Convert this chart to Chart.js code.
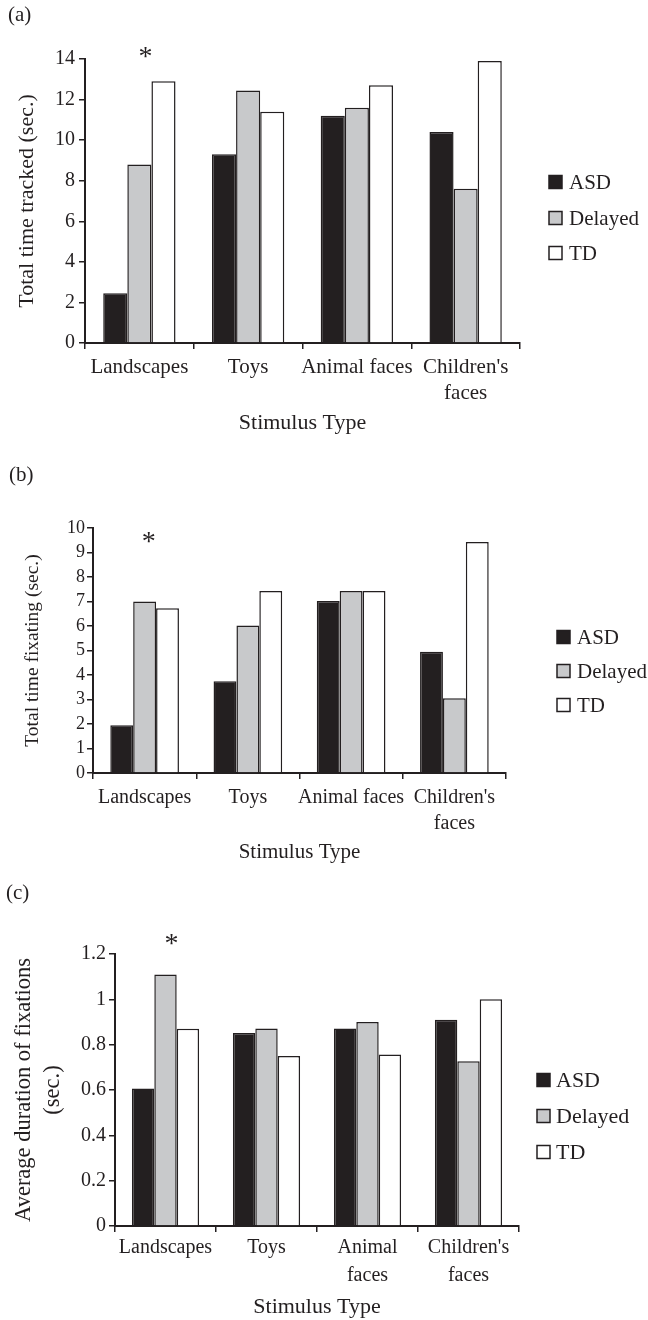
<!DOCTYPE html>
<html>
<head>
<meta charset="utf-8">
<script src="https://cdn.jsdelivr.net/npm/chart.js@4.4.1/dist/chart.umd.min.js"></script>
<style>
  body { margin: 0; background: #fff; }
  #page { position: relative; width: 648px; height: 1320px; font-family: "Liberation Serif", serif; color: #231f20; }
  .panel { position: absolute; left: 0; width: 648px; height: 440px; }
  .tag { position: absolute; font-size: 21px; line-height: 1; }
</style>
</head>
<body>
<div id="page">
  <div class="panel" style="top:0px"><canvas id="chartA"></canvas></div>
  <div class="panel" style="top:440px"><canvas id="chartB"></canvas></div>
  <div class="panel" style="top:880px"><canvas id="chartC"></canvas></div>
  <div class="tag" style="left:8px; top:4px">(a)</div>
  <div class="tag" style="left:9px; top:464px">(b)</div>
  <div class="tag" style="left:6px; top:882px">(c)</div>
</div>
<script>
const groups = ['ASD', 'Delayed', 'TD'];
const labelsAB = ['Landscapes', 'Toys', 'Animal faces', ["Children's", 'faces']];
const labelsC = ['Landscapes', 'Toys', ['Animal', 'faces'], ["Children's", 'faces']];

// (a) total time tracked
const trackedASD = [2.45, 9.3, 11.2, 10.4];
const trackedDelayed = [8.8, 12.45, 11.6, 7.6];
const trackedTD = [12.9, 11.4, 12.7, 13.9];

// (b) total time fixating
const fixatingASD = [1.95, 3.75, 7.02, 4.95];
const fixatingDelayed = [7.0, 6.02, 7.43, 3.05];
const fixatingTD = [6.72, 7.43, 7.43, 9.43];

// (c) average duration of fixations
const durationASD = [0.607, 0.852, 0.871, 0.91];
const durationDelayed = [1.11, 0.871, 0.9, 0.727];
const durationTD = [0.87, 0.75, 0.757, 1.0];

const ink = '#231f20';
const serif = '"Liberation Serif", "Times New Roman", serif';
const fills = [ink, '#c8c9cb', '#ffffff'];

// legend boxes on the right, drawn from the datasets
const groupLegend = {
    id: 'groupLegend',
    afterDraw(chart, args, opts) {
        const ctx = chart.ctx;
        ctx.save();
        chart.data.datasets.forEach((ds, i) => {
            const y = opts.ys[i];
            ctx.fillStyle = ds.backgroundColor;
            ctx.fillRect(opts.x, y - opts.size / 2, opts.size, opts.size);
            ctx.lineWidth = 1.5;
            ctx.strokeStyle = ink;
            ctx.strokeRect(opts.x, y - opts.size / 2, opts.size, opts.size);
            ctx.fillStyle = ink;
            ctx.font = opts.fontSize + 'px ' + serif;
            ctx.textBaseline = 'middle';
            ctx.textAlign = 'left';
            ctx.fillText(ds.label, opts.textX, y + 1);
        });
        ctx.restore();
    }
};

// significance star over the Delayed bar of the first category
const starMark = {
    id: 'starMark',
    afterDatasetsDraw(chart, args, opts) {
        const bar = chart.getDatasetMeta(1).data[0];
        const y = chart.scales.y.getPixelForValue(opts.value);
        const ctx = chart.ctx;
        ctx.save();
        ctx.fillStyle = ink;
        ctx.font = '28px ' + serif;
        ctx.textAlign = 'center';
        ctx.textBaseline = 'middle';
        ctx.fillText('*', bar.x + opts.dx, y + 5);
        ctx.restore();
    }
};

function makeChart(id, p) {
    return new Chart(document.getElementById(id), {
        type: 'bar',
        data: {
            labels: p.labels,
            datasets: p.series.map((values, i) => ({
                label: groups[i],
                data: values,
                backgroundColor: fills[i],
                borderColor: ink,
                borderWidth: 1.5,
                categoryPercentage: 0.665,
                barPercentage: 1
            }))
        },
        options: {
            responsive: true,
            maintainAspectRatio: false,
            animation: false,
            layout: { padding: { left: 0, top: p.area.top, right: 648 - p.area.right, bottom: 0 } },
            plugins: {
                legend: { display: false },
                tooltip: { enabled: false },
                groupLegend: p.legend,
                starMark: p.star
            },
            scales: {
                x: {
                    grid: { drawOnChartArea: false, drawTicks: true, tickLength: 6, color: ink, lineWidth: 1.5 },
                    border: { color: ink, width: 2 },
                    ticks: {
                        color: ink, autoSkip: false, maxRotation: 0, minRotation: 0,
                        padding: p.xPad,
                        font: { family: serif, size: p.xFont, lineHeight: p.xLine / p.xFont }
                    },
                    title: {
                        display: true, text: 'Stimulus Type', color: ink,
                        font: { family: serif, size: p.xTitleFont, lineHeight: 1.2 },
                        padding: { top: 0, bottom: p.xTitlePad }
                    },
                    afterFit: (s) => { s.height = 440 - p.area.bottom; }
                },
                y: {
                    min: 0,
                    max: p.yMax,
                    grid: { drawOnChartArea: false, drawTicks: true, tickLength: 6, color: ink, lineWidth: 1.5 },
                    border: { color: ink, width: 2 },
                    ticks: {
                        stepSize: p.yStep, color: ink, padding: p.yPad, autoSkip: false,
                        font: { family: serif, size: p.yFont },
                        callback: (v) => String(Math.round(v * 10) / 10)
                    },
                    title: {
                        display: true, text: p.yTitle, color: ink,
                        font: { family: serif, size: p.yTitleFont, lineHeight: p.yTitleLine },
                        padding: { top: p.yTitlePad, bottom: 0 }
                    },
                    afterFit: (s) => { s.width = p.area.left; }
                }
            }
        },
        plugins: [groupLegend, starMark]
    });
}

// Panel (a)
makeChart('chartA', {
    labels: labelsAB,
    series: [trackedASD, trackedDelayed, trackedTD],
    area: { left: 85, right: 520, top: 59, bottom: 343 },
    yMax: 14, yStep: 2, yFont: 20, yPad: 4,
    yTitle: 'Total time tracked (sec.)', yTitleFont: 22, yTitleLine: 1.2, yTitlePad: 14,
    xFont: 21, xLine: 26, xPad: 5, xTitleFont: 22, xTitlePad: 4,
    legend: { x: 549, textX: 569, size: 13, fontSize: 21, ys: [182, 218, 253] },
    star: { value: 14.3, dx: 6 }
});

// Panel (b)
makeChart('chartB', {
    labels: labelsAB,
    series: [fixatingASD, fixatingDelayed, fixatingTD],
    area: { left: 93, right: 506, top: 88, bottom: 333 },
    yMax: 10, yStep: 1, yFont: 18, yPad: 2,
    yTitle: 'Total time fixating (sec.)', yTitleFont: 19.5, yTitleLine: 1.2, yTitlePad: 21,
    xFont: 20, xLine: 26, xPad: 6, xTitleFont: 21, xTitlePad: 15,
    legend: { x: 557, textX: 577, size: 13, fontSize: 21, ys: [197, 231, 265] },
    star: { value: 9.62, dx: 4 }
});

// Panel (c)
makeChart('chartC', {
    labels: labelsC,
    series: [durationASD, durationDelayed, durationTD],
    area: { left: 115, right: 519, top: 74, bottom: 346 },
    yMax: 1.2, yStep: 0.2, yFont: 20, yPad: 3,
    yTitle: ['Average duration of fixations', '(sec.)'], yTitleFont: 22.5, yTitleLine: 1.3, yTitlePad: 9,
    xFont: 20, xLine: 28, xPad: 2, xTitleFont: 22, xTitlePad: 0,
    legend: { x: 537, textX: 556, size: 13, fontSize: 22, ys: [200, 236, 272] },
    star: { value: 1.263, dx: 6 }
});
</script>
</body>
</html>
